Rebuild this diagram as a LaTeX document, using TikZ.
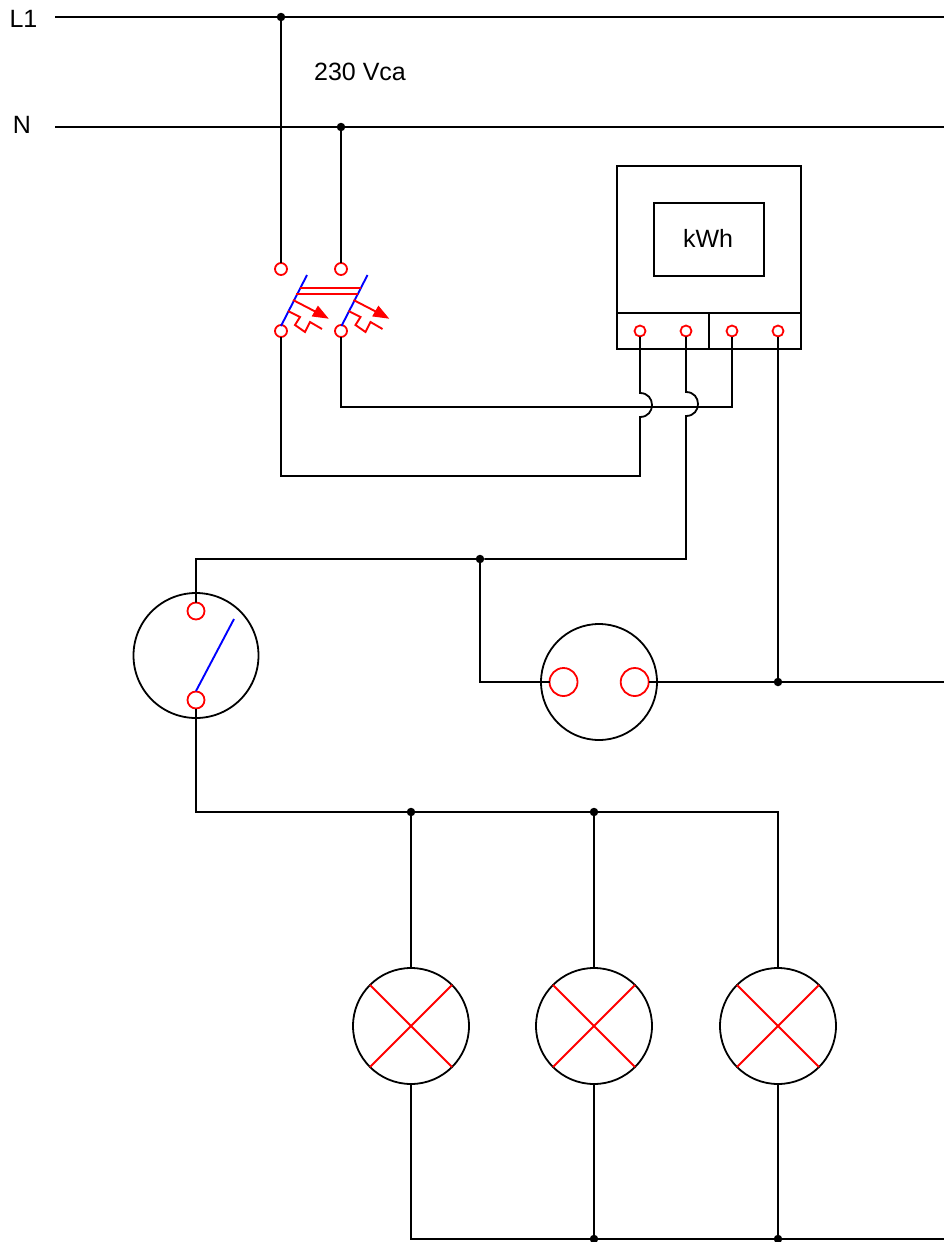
\documentclass[tikz,border=0pt]{standalone}
\usepackage{fontspec}
\setmainfont{Liberation Sans}
\begin{document}
\begin{tikzpicture}[x=1pt,y=-1pt,
  wire/.style={draw=black,line width=1.8pt,line join=miter},
  redline/.style={draw=red,line width=1.9pt},
  blueline/.style={draw=blue,line width=1.9pt},
  junction/.style={circle,fill=black,draw=none,minimum size=8.5pt,inner sep=0pt,outer sep=0pt},
  terminal/.style={circle,draw=red,line width=1.8pt,fill=white,minimum size=12pt,inner sep=0pt,outer sep=0pt},
  bigterm/.style={circle,draw=red,line width=1.8pt,fill=none,minimum size=17pt,inner sep=0pt,outer sep=0pt},
  sockterm/.style={circle,draw=red,line width=1.8pt,fill=none,minimum size=28pt,inner sep=0pt,outer sep=0pt},
  bigcircle/.style={circle,draw=black,line width=1.8pt,inner sep=0pt,outer sep=0pt},
  label/.style={font=\fontsize{25}{29}\selectfont,inner sep=0pt,text=black}
]
\useasboundingbox (0,0) rectangle (944,1242);
\fill[white] (0,0) rectangle (944,1242);

% labels
\node[label] (tL) at (23.5,19) {L1};
\node[label] (tN) at (22,125) {N};
\node[label] (tV) at (360,72) {230 Vca};

% free ends
\coordinate (L1a) at (55,17);  \coordinate (L1b) at (944,17);
\coordinate (Na)  at (55,127); \coordinate (Nb)  at (944,127);
\coordinate (Sb)  at (944,682);
\coordinate (Bb)  at (944,1239);

% junctions
\node[junction] (dL) at (281,17) {};
\node[junction] (dN) at (341,127) {};
\node[junction] (dS) at (480,559) {};
\node[junction] (dR) at (778,682) {};
\node[junction] (dA) at (411,812) {};
\node[junction] (dB) at (594,812) {};
\node[junction] (dC) at (594,1239) {};
\node[junction] (dD) at (778,1239) {};

% breaker terminals
\node[terminal] (b1) at (281,269) {};
\node[terminal] (b2) at (341,269) {};
\node[terminal] (b3) at (281,331) {};
\node[terminal] (b4) at (341,331) {};

% meter
\draw[wire] (617,166) rectangle (801,349);
\draw[wire] (617,313) -- (801,313);
\draw[wire] (709,313) -- (709,349);
\draw[wire] (654,203) rectangle (764,276);
\node[label] (kwh) at (708,238) {kWh};
\node[terminal,minimum size=11pt] (m1) at (640,331) {};
\node[terminal,minimum size=11pt] (m2) at (686,331) {};
\node[terminal,minimum size=11pt] (m3) at (732,331) {};
\node[terminal,minimum size=11pt] (m4) at (778,331) {};

% switch
\node[bigcircle,minimum size=125pt] (sw) at (196,655.5) {};
\node[bigterm] (s1) at (196,611) {};
\node[bigterm] (s2) at (196,700) {};

% socket
\node[bigcircle,minimum size=116pt] (so) at (599,682) {};
\node[sockterm] (o1) at (563.5,682) {};
\node[sockterm] (o2) at (634.7,682) {};

% lamps
\node[bigcircle,minimum size=116pt] (la) at (411,1026) {};
\node[bigcircle,minimum size=116pt] (lb) at (594,1026) {};
\node[bigcircle,minimum size=116pt] (lc) at (778,1026) {};
\foreach \l in {la,lb,lc}{
  \draw[redline] (\l.45) -- (\l.225);
  \draw[redline] (\l.135) -- (\l.315);
}

% bus lines
\draw[wire] (L1a) -- (dL) -- (L1b);
\draw[wire] (Na) -- (dN) -- (Nb);
\draw[wire] (dL) -- (b1);
\draw[wire] (dN) -- (b2);

% meter wiring
\coordinate (j1a) at (640,393); \coordinate (j1b) at (640,417);
\coordinate (j2a) at (686,392); \coordinate (j2b) at (686,416);
\draw[wire] (b4) -- (341,407) -- (732,407) -- (m3);
\draw[wire] (m1) -- (j1a) .. controls (656,393) and (656,417) .. (j1b) -- (640,476) -- (281,476) -- (b3);
\draw[wire] (m2) -- (j2a) .. controls (702,392) and (702,416) .. (j2b) -- (686,559) -- (dS) -- (196,559) -- (s1);
\draw[wire] (dS) -- (480,682) -- (o1);
\draw[wire] (o2) -- (dR) -- (Sb);
\draw[wire] (m4) -- (dR);

% switch to lamps
\draw[wire] (s2) -- (196,812) -- (dA) -- (dB) -- (778,812) -- (lc);
\draw[wire] (dA) -- (la);
\draw[wire] (dB) -- (lb);
\draw[wire] (la) -- (411,1239) -- (dC) -- (dD) -- (Bb);
\draw[wire] (lb) -- (dC);
\draw[wire] (lc) -- (dD);

% contacts
\coordinate (c1a) at (281,326); \coordinate (c1b) at (307,275);
\coordinate (c2a) at (341.5,326); \coordinate (c2b) at (367.5,275);
\coordinate (c3a) at (196,691); \coordinate (c3b) at (234,619);
\draw[blueline] (c1a) -- (c1b);
\draw[blueline] (c2a) -- (c2b);
\draw[blueline] (c3a) -- (c3b);

% breaker linkage, trip arrows and thermal elements
\draw[redline] (300,288) -- (361,288);
\draw[redline] (296,294) -- (358,294);
\foreach \dx in {0,60.5}{
  \begin{scope}[xshift=\dx pt]
    \draw[redline] (293,300) -- (320,314);
    \filldraw[draw=red,fill=red,line width=1pt,line join=miter] (327.5,318) -- (318,306.5) -- (312.5,316) -- cycle;
    \draw[redline,line join=miter] (288,311) -- (300,317) -- (295,325) -- (305,332) -- (310,322) -- (322,329);
  \end{scope}
}
\end{tikzpicture}
\end{document}
